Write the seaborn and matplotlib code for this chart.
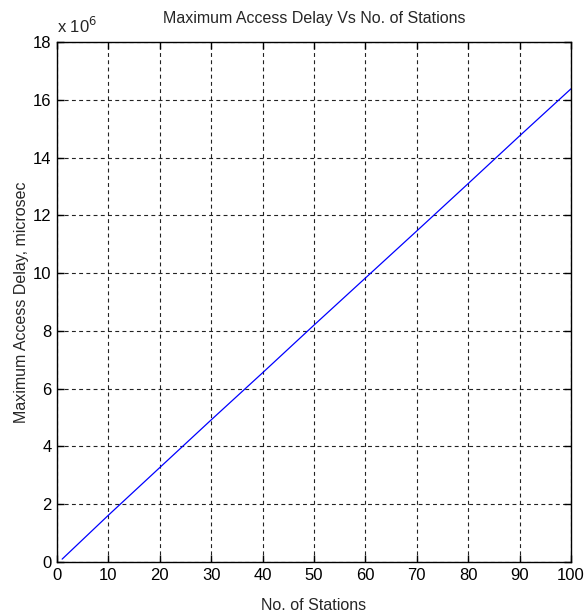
import matplotlib
matplotlib.use("Agg")
import matplotlib.pyplot as plt
import seaborn as sns
from matplotlib.ticker import FuncFormatter

# values (delay in microseconds)
stations = [1, 10, 20, 30, 40, 50, 60, 70, 80, 90, 100]
max_delay = [0.10e6, 1.62e6, 3.27e6, 4.92e6, 6.55e6, 8.20e6, 9.83e6, 11.46e6, 13.10e6, 14.75e6, 16.38e6]
x_ticks = list(range(0, 101, 10))
y_ticks = [v * 1e6 for v in range(0, 19, 2)]

sns.set_style("white")
plt.rcParams["font.family"] = ["Liberation Sans Narrow", "Liberation Sans", "DejaVu Sans"]

fig = plt.figure(figsize=(5.84, 6.16), dpi=100)
ax = fig.add_axes([57 / 584, 1 - 562 / 616, 514 / 584, 520 / 616])

sns.lineplot(x=stations, y=max_delay, ax=ax, color="#0000ff", linewidth=0.9)

ax.set_xlim(0, 100)
ax.set_ylim(0, 18e6)
ax.set_xticks(x_ticks)
ax.set_yticks(y_ticks)
ax.yaxis.set_major_formatter(FuncFormatter(lambda v, _: f"{v / 1e6:g}"))
ax.grid(True, color="#222222", linestyle=(0, (3.5, 3)), linewidth=0.8)
ax.tick_params(direction="in", length=5, width=1, labelsize=12, colors="black",
               top=True, right=True, bottom=True, left=True, pad=4)
for spine in ax.spines.values():
    spine.set_visible(True)
    spine.set_color("black")
    spine.set_linewidth(1.0)

ax.set_title("Maximum Access Delay Vs No. of Stations", fontsize=11.5, pad=14)
ax.set_xlabel("No. of Stations", fontsize=11.5)
ax.set_ylabel("Maximum Access Delay, microsec", fontsize=11.5)
# place axis labels where the reference has them
ax.xaxis.set_label_coords(0.5, -36 / 520)
ax.yaxis.set_label_coords(-28 / 514, 0.5)
ax.text(0.0, 1.012, r"x 10$^{6}$", transform=ax.transAxes, fontsize=12, va="bottom", ha="left")

fig.savefig("out.png", dpi=100)
